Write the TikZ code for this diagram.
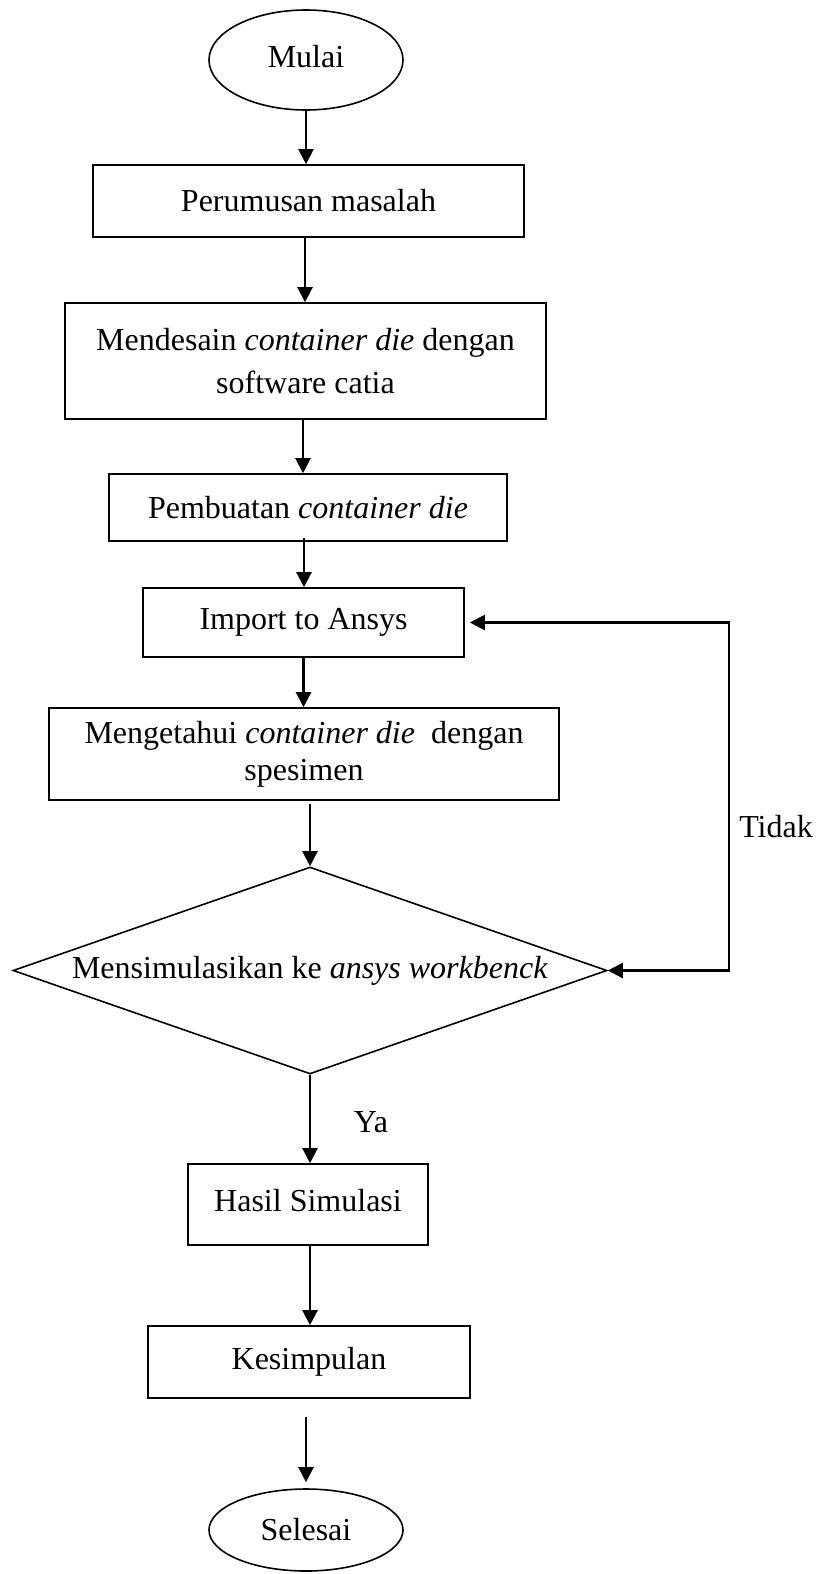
\documentclass[tikz,border=0pt]{standalone}
\usepackage{fontspec}
\setmainfont{Liberation Serif}
\usetikzlibrary{shapes.geometric,arrows.meta,calc}
\tikzset{
  boxnode/.style={draw, line width=1.6pt, rectangle, inner sep=0pt, align=center},
  termnode/.style={draw, line width=1.6pt, ellipse, inner sep=0pt, minimum width=194pt},
  decnode/.style={draw, line width=1.6pt, diamond, inner sep=0pt},
  arr/.style={line width=2.2pt, -{Triangle[length=15pt,width=15pt]}},
  lbl/.style={inner sep=0pt}
}
\begin{document}
\begin{tikzpicture}[x=1pt,y=-1pt]
\useasboundingbox (0,0) rectangle (820,1574);
\fontsize{32}{40}\selectfont
\node[termnode, minimum height=100pt] (mulai) at (306,60) {\raisebox{8pt}{Mulai}};
\node[boxnode, minimum width=431pt, minimum height=72pt] (per) at (308.5,201) {Perumusan masalah};
\node[boxnode, minimum width=481pt, minimum height=116pt, font=\fontsize{32}{43}\selectfont] (des) at (305.5,361) {Mendesain \textit{container die} dengan\\software catia};
\node[boxnode, minimum width=398pt, minimum height=67pt] (pem) at (308,507.5) {Pembuatan \textit{container die}};
\node[boxnode, minimum width=321pt, minimum height=69pt] (imp) at (303.5,622.5) {Import to Ansys};
\node[boxnode, minimum width=510pt, minimum height=92pt, font=\fontsize{32}{37}\selectfont] (men) at (304,754) {Mengetahui \textit{container die}\ \ dengan\\spesimen};
\node[decnode, minimum width=594pt, minimum height=207pt] (dec) at (310,970.5) {};
\node[lbl] (dectxt) at (dec.center) {Mensimulasikan ke \textit{ansys workbenck}};
\node[boxnode, minimum width=240pt, minimum height=81pt] (has) at (308,1204.5) {\raisebox{9pt}{Hasil Simulasi}};
\node[boxnode, minimum width=322pt, minimum height=72pt] (kes) at (309,1362) {Kesimpulan};
\node[termnode, minimum height=82pt] (sel) at (306,1530) {Selesai};
\node[lbl] (tidak) at (776,827) {Tidak};
\node[lbl] (ya) at (371,1122) {Ya};
\coordinate (fb) at (729,970.5);
% connectors
\draw[arr] (mulai.south) -- (mulai.south |- per.north);
\draw[arr] ([xshift=-3.5pt]per.south) -- ([xshift=-3.5pt]per.south |- des.north);
\draw[arr] ([xshift=-2.5pt]des.south) -- ([xshift=-2.5pt]des.south |- pem.north);
\draw[arr] ([xshift=-4pt,yshift=4pt]pem.south) -- ([xshift=-4pt]pem.south |- imp.north);
\draw[arr] (imp.south) -- (imp.south |- men.north);
\draw[arr] ([xshift=6pt,yshift=-3pt]men.south) -- (dec.north);
\draw[arr] (dec.south) -- (dec.south |- has.north);
\draw[arr] ([xshift=2pt]has.south) -- ([xshift=2pt]has.south |- kes.north);
\draw[arr, shorten <=18pt, shorten >=6pt] ([xshift=-3pt]kes.south) -- ([xshift=-3pt]kes.south |- sel.north);
\draw[line width=2.2pt, {Triangle[length=15pt,width=15pt]}-{Triangle[length=15pt,width=15pt]}, shorten >=5pt] (dec.east) -- (fb) |- (imp.east);
\end{tikzpicture}
\end{document}
